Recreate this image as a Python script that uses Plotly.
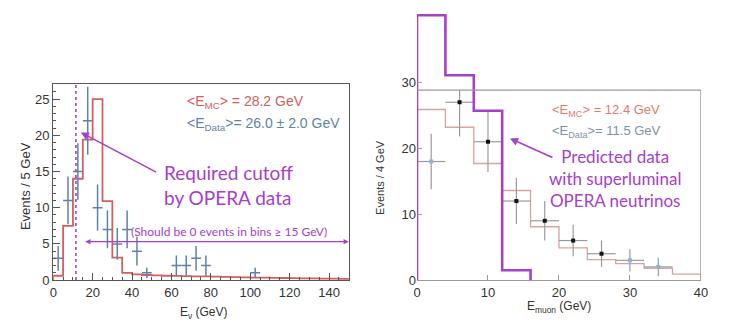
import plotly.graph_objects as go

# ---------------- data: left panel (neutrino energy, 5 GeV bins) ----------------
nu_edges = list(range(0, 155, 5))
nu_mc = [0.6, 7.5, 14.0, 19.4, 25.0, 10.9, 3.1, 1.0, 0.8, 0.7,
         0.65, 0.6, 0.58, 0.55, 0.52, 0.5, 0.47, 0.44, 0.41, 0.38,
         0.35, 0.33, 0.31, 0.29, 0.27, 0.25, 0.23, 0.21, 0.19, 0.17]
nu_data_x = [2.5, 7.5, 12.5, 17.5, 22.5, 27.5, 32.5, 37.5, 42.5, 47.5, 62.5, 67.5, 72.5, 77.5, 102.5]
nu_data_y = [3, 11, 15, 22, 10, 7, 5, 7, 4, 1, 2, 2, 3, 2, 1]
nu_data_err = [1.7, 3.3, 3.9, 4.7, 3.2, 2.6, 2.2, 2.6, 2.0, 0.7, 1.4, 1.4, 1.7, 1.4, 0.7]
nu_bin_halfwidth = 2.5
nu_cutoff = 11.5
nu_x_ticks = [0, 20, 40, 60, 80, 100, 120, 140]
nu_y_ticks = [0, 5, 10, 15, 20, 25]

# ---------------- data: right panel (muon energy, 4 GeV bins) ----------------
mu_edges = list(range(0, 44, 4))
mu_mc = [25.9, 23.2, 17.7, 13.6, 8.1, 4.9, 3.1, 2.5, 1.8, 0.9]
mu_pred_edges = [0, 4, 8, 12, 16]
mu_pred = [40.2, 31.1, 25.7, 1.5]
mu_data_x = [2, 6, 10, 14, 18, 22, 26, 30, 34]
mu_data_y = [18, 27, 21, 12, 9, 6, 4, 3, 2]
mu_data_err = [4.2, 5.2, 4.6, 3.5, 3.0, 2.4, 2.0, 1.7, 1.4]
mu_bin_halfwidth = 2
mu_frame_top = 28.85
mu_x_ticks = [0, 10, 20, 30, 40]
mu_y_ticks = [0, 10, 20, 30]

# ---------------- style ----------------
W, H = 733, 332
PURPLE = "#a640c8"
RED = "#d4605c"
BLUE = "#5f82ab"
PINK = "#dba2a2"
GRAYBAR = "#9a9a9a"
FRAME = "#555555"
RFRAME = "#9a9a9a"
TICKFONT = dict(family="Liberation Sans, Arial", size=13, color="#333")
TXTFONT = "Lato, Open Sans"


def px_x(p):
    return p / W


def px_y(p):
    return 1 - p / H


def step(edges, vals):
    xs = [edges[0]] + list(edges) + [edges[-1]]
    ys = [0] + list(vals) + [vals[-1], 0]
    return xs, ys


fig = go.Figure()

# left MC histogram
sx, sy = step(nu_edges, nu_mc)
fig.add_trace(go.Scatter(x=sx, y=sy, mode="lines", line=dict(color=RED, width=1.8, shape="hv"),
                         xaxis="x", yaxis="y", hoverinfo="skip"))
# left data
fig.add_trace(go.Scatter(x=nu_data_x, y=nu_data_y, mode="markers",
                         marker=dict(size=1, color=BLUE),
                         error_x=dict(type="constant", value=nu_bin_halfwidth, width=0, thickness=1.5, color=BLUE),
                         error_y=dict(type="data", array=nu_data_err, width=0, thickness=1.5, color=BLUE),
                         xaxis="x", yaxis="y"))

# right MC histogram (no drop at left)
mx = list(mu_edges) + [mu_edges[-1]]
my = list(mu_mc) + [mu_mc[-1], 0]
fig.add_trace(go.Scatter(x=mx, y=my, mode="lines", line=dict(color=PINK, width=1.3, shape="hv"),
                         xaxis="x2", yaxis="y2", hoverinfo="skip"))
# right data (error bars clipped at the frame top)
err_plus = [min(y + e, mu_frame_top) - y for y, e in zip(mu_data_y, mu_data_err)]
mu_marker_colors = ["#8fb2da", "#111", "#111", "#111", "#111", "#111", "#111", "#8fb2da", "#8fb2da"]
fig.add_trace(go.Scatter(x=mu_data_x, y=mu_data_y, mode="markers",
                         marker=dict(size=4, symbol="square", color=mu_marker_colors),
                         error_x=dict(type="constant", value=mu_bin_halfwidth, width=0, thickness=1.2, color=GRAYBAR),
                         error_y=dict(type="data", symmetric=False, array=err_plus, arrayminus=mu_data_err,
                                      width=0, thickness=1.2, color=GRAYBAR),
                         xaxis="x2", yaxis="y2"))
# right predicted (purple)
px_, py_ = step(mu_pred_edges, mu_pred)
fig.add_trace(go.Scatter(x=px_, y=py_, mode="lines", line=dict(color=PURPLE, width=2.6, shape="hv"),
                         xaxis="x2", yaxis="y2", hoverinfo="skip", cliponaxis=False))

# ---------------- axes ----------------
L_X0, L_X1, L_Y0, L_Y1 = 50, 350, 287, 86
R_X0, R_X1, R_Y0 = 419.3, 707.5, 287
R_PPU = 6.75
R_YMAX = 41.3
L_YMAX = 27.1

common = dict(showgrid=False, zeroline=False, ticks="inside", tickfont=TICKFONT, fixedrange=True)
fig.update_layout(
    width=W, height=H, margin=dict(l=0, r=0, t=0, b=0), autosize=False,
    paper_bgcolor="white", plot_bgcolor="white", showlegend=False,
    xaxis=dict(domain=[px_x(L_X0), px_x(L_X1)], range=[0, 150], tickvals=nu_x_ticks,
               anchor="y", showline=True, mirror=True, linecolor=FRAME, linewidth=1.2,
               ticklen=7, tickcolor=FRAME,
               minor=dict(ticks="inside", dtick=5, ticklen=3, tickcolor=FRAME), **common),
    yaxis=dict(domain=[px_y(L_Y0), px_y(L_Y1)], range=[0, L_YMAX], tickvals=nu_y_ticks,
               anchor="x", showline=True, mirror=True, linecolor=FRAME, linewidth=1.2,
               ticklen=7, tickcolor=FRAME,
               minor=dict(ticks="inside", dtick=1, ticklen=3, tickcolor=FRAME), **common),
    xaxis2=dict(domain=[px_x(R_X0), px_x(R_X1)], range=[0, 40], tickvals=mu_x_ticks,
                anchor="y2", showline=True, linecolor=RFRAME, linewidth=1.2,
                ticklen=5, tickcolor=RFRAME, **common),
    yaxis2=dict(domain=[px_y(R_Y0), px_y(R_Y0 - R_YMAX * R_PPU)], range=[0, R_YMAX], tickvals=mu_y_ticks,
                anchor="x2", showline=False, ticklen=5, tickcolor=RFRAME, **common),
)

# ---------------- shapes ----------------
shapes = [
    dict(type="line", xref="x", yref="y", x0=nu_cutoff, x1=nu_cutoff, y0=0, y1=L_YMAX,
         line=dict(color=PURPLE, width=1.6, dash="3px,3px")),
    dict(type="line", xref="x2", yref="y2", x0=0, x1=40, y0=mu_frame_top, y1=mu_frame_top,
         line=dict(color=RFRAME, width=1.2)),
    dict(type="line", xref="x2", yref="y2", x0=40, x1=40, y0=0, y1=mu_frame_top,
         line=dict(color=RFRAME, width=1.2)),
    dict(type="line", xref="x2", yref="y2", x0=0, x1=0, y0=0, y1=mu_frame_top,
         line=dict(color=RFRAME, width=1.2), layer="below"),
]
fig.update_layout(shapes=shapes)

# ---------------- annotations ----------------
ann = []


def label(text, xp, yp, size, color, family="Liberation Sans, Arial", xanchor="center", angle=0, align="center"):
    ann.append(dict(text=text, x=px_x(xp), y=px_y(yp), xref="paper", yref="paper",
                    xanchor=xanchor, yanchor="middle", textangle=angle, align=align,
                    showarrow=False, font=dict(family=family, size=size, color=color)))


# axis titles
label("Events / 5 GeV", 22, 191, 13, "#333", angle=-90)
label("Events / 4 GeV", 381, 182, 11, "#333", angle=-90)
label("E<sub>ν</sub> (GeV)", 203, 321, 12, "#333")
label("E<sub>muon</sub> (GeV)", 563, 315, 12, "#333")
# mean labels
label("&lt;E<sub>MC</sub>&gt; = 28.2 GeV", 184, 105, 14, RED, xanchor="left")
label("&lt;E<sub>Data</sub>&gt;= 26.0 ± 2.0 GeV", 184, 127, 14, BLUE, xanchor="left")
label("&lt;E<sub>MC</sub>&gt; = 12.4 GeV", 554, 113, 13, "#e07c72", xanchor="left")
label("&lt;E<sub>Data</sub>&gt;= 11.5 GeV", 554, 135, 13, "#7f90ab", xanchor="left")
# purple call-outs
label("Required cutoff<br>by OPERA data", 160, 190, 19, PURPLE, family=TXTFONT, xanchor="left", align="left")
label("(Should be 0 events in bins ≥ 15 GeV)", 127, 237, 12, PURPLE, family=TXTFONT, xanchor="left")
label("Predicted data<br>with superluminal<br>OPERA neutrinos", 620, 183, 17, PURPLE, family=TXTFONT)

ann.append(dict(text="", x=14, y=20.4, xref="x", yref="y", ax=53, ay=14.8, axref="x", ayref="y",
                showarrow=True, arrowhead=2, arrowsize=1, arrowwidth=1.6, arrowcolor=PURPLE))
ann.append(dict(text="", x=150, y=5.3, xref="x", yref="y", ax=15.5, ay=5.3, axref="x", ayref="y",
                showarrow=True, arrowhead=2, arrowside="end+start", arrowsize=0.8, arrowwidth=1.3, arrowcolor=PURPLE))
ann.append(dict(text="", x=13.1, y=21.5, xref="x2", yref="y2", ax=19.3, ay=18.5, axref="x2", ayref="y2",
                showarrow=True, arrowhead=2, arrowsize=1, arrowwidth=1.6, arrowcolor=PURPLE))
fig.update_layout(annotations=ann)

fig.write_html("out.html")
